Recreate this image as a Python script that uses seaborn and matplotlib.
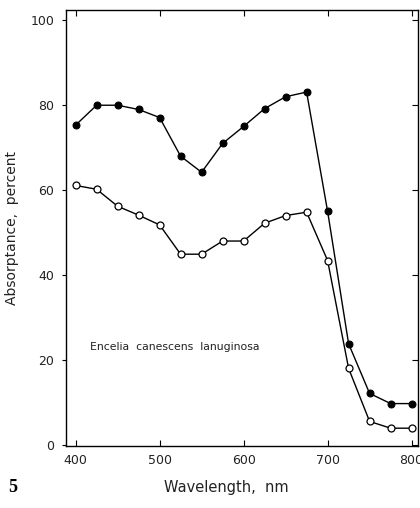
import matplotlib
matplotlib.use("Agg")
import matplotlib.pyplot as plt
import seaborn as sns
import pandas as pd

wavelength = [400, 425, 450, 475, 500, 525, 550, 575, 600, 625, 650, 675, 700, 725, 750, 775, 800]
filled_vals = [75.3, 80, 80, 79, 77.1, 68, 64.2, 71, 75, 79.2, 82, 83.1, 55, 23.8, 12.1, 9.7, 9.7]
open_vals = [61.1, 60.2, 56.2, 54.1, 51.8, 44.9, 44.9, 48, 48, 52.2, 54, 54.8, 43.4, 18, 5.5, 3.9, 3.9]
x_ticks = [400, 500, 600, 700, 800]
y_ticks = [0, 20, 40, 60, 80, 100]

sns.set_theme(style="white")
plt.rcParams['font.family'] = ['DejaVu Sans']

df_f = pd.DataFrame({"wl": wavelength, "val": filled_vals})
df_o = pd.DataFrame({"wl": wavelength, "val": open_vals})

fig = plt.figure(figsize=(4.2, 5.08), dpi=100)
ax = fig.add_axes([0.156, 0.122, 0.839, 0.858])

sns.lineplot(data=df_f, x="wl", y="val", ax=ax, color="black", linewidth=1.0,
             marker="o", markersize=5, markerfacecolor="black", markeredgecolor="black")
sns.lineplot(data=df_o, x="wl", y="val", ax=ax, color="black", linewidth=1.0,
             marker="o", markersize=5, markerfacecolor="white", markeredgecolor="black",
             markeredgewidth=0.9)

ax.set_xlim(388, 807.5)
ax.set_ylim(-0.3, 102.4)
ax.set_xticks(x_ticks)
ax.set_yticks(y_ticks)
ax.set_xlabel("")
ax.set_ylabel("Absorptance,  percent", fontsize=10, color="#222222", labelpad=8)

for s in ax.spines.values():
    s.set_color("black")
    s.set_linewidth(1.0)

ax.tick_params(axis="x", which="both", direction="in", length=4, width=0.8,
               top=True, bottom=True, labelsize=9, colors="black", labelcolor="#222222", pad=6)
ax.tick_params(axis="y", which="both", direction="out", length=3, width=0.8,
               left=True, labelsize=9, colors="black", labelcolor="#222222", pad=5)
ax.tick_params(axis="y", which="both", right=True)
# right ticks inward
for t in ax.yaxis.get_major_ticks():
    t.tick2line.set_marker(matplotlib.lines.TICKLEFT)
    t.tick2line.set_markersize(4)

ax.text(417, 23.1, "Encelia  canescens  lanuginosa", fontsize=7.8, color="#222222",
        va="center", ha="left")

fig.text(0.54, 0.04, "Wavelength,  nm", fontsize=10.5, color="#222222", ha="center", va="center")
fig.text(0.03, 0.04, "5", fontsize=13, fontweight="bold", family="Liberation Serif",
         ha="center", va="center", color="black")

fig.savefig("out.png", dpi=100)
